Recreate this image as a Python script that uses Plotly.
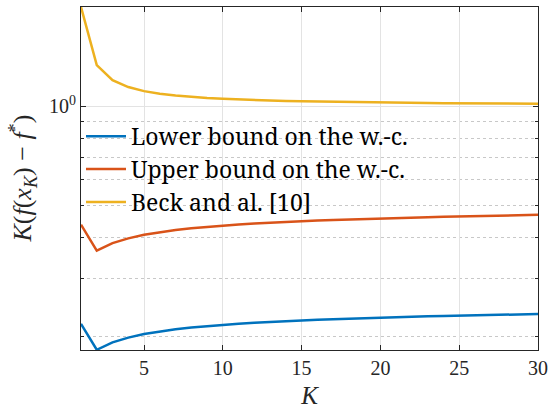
import plotly.graph_objects as go

K = list(range(1, 31))

lower_bound = [0.2185, 0.1823, 0.1920, 0.1985, 0.2035, 0.2075, 0.2105, 0.2130,
               0.2152, 0.2170, 0.2187, 0.2202, 0.2216, 0.2228, 0.2239, 0.2249,
               0.2258, 0.2267, 0.2275, 0.2283, 0.2290, 0.2297, 0.2303, 0.2309,
               0.2315, 0.2320, 0.2325, 0.2330, 0.2335, 0.2340]

upper_bound = [0.4370, 0.3646, 0.3840, 0.3970, 0.4070, 0.4150, 0.4210, 0.4260,
               0.4304, 0.4340, 0.4374, 0.4404, 0.4432, 0.4456, 0.4478, 0.4498,
               0.4516, 0.4534, 0.4550, 0.4566, 0.4580, 0.4594, 0.4606, 0.4618,
               0.4630, 0.4640, 0.4650, 0.4660, 0.4670, 0.4680]

beck = [2.0, 1.3333, 1.2, 1.1429, 1.1111, 1.0909, 1.0769, 1.0667, 1.0588, 1.0526,
        1.0476, 1.0435, 1.04, 1.0370, 1.0345, 1.0323, 1.0303, 1.0286, 1.0270, 1.0256,
        1.0244, 1.0233, 1.0222, 1.0213, 1.0204, 1.0196, 1.0189, 1.0182, 1.0175, 1.0169]

names = ["Lower bound on the w.-c.", "Upper bound on the w.-c.", "Beck and al. [10]"]
colors = ["#0072BD", "#D95319", "#EDB120"]

x_ticks = [5, 10, 15, 20, 25, 30]
y_major = [1]
y_major_text = ["10<sup>0</sup>"]
y_minor = [0.2, 0.3, 0.4, 0.5, 0.6, 0.7, 0.8, 0.9, 2]

x_title = "<i>K</i>"
y_title = "<i>K</i>(<i>f</i>(<i>x</i><sub><i>K</i></sub>) − <i>f</i><sup>*</sup>)"

FONT = "Liberation Serif"
LEGEND_FONT = "Noto Serif"
AX = "#262626"

fig = go.Figure()
for vals, name, col in zip([lower_bound, upper_bound, beck], names, colors):
    fig.add_trace(go.Scatter(x=K, y=vals, mode="lines", name=name,
                             line=dict(color=col, width=2.5)))

fig.add_annotation(text=y_title, textangle=-90, xref="paper", yref="paper",
                   x=-0.129, y=0.50, xanchor="center", yanchor="middle", showarrow=False,
                   font=dict(family=FONT, size=26, color=AX))

fig.update_layout(
    width=550, height=411,
    margin=dict(l=81, r=12, t=7, b=61, autoexpand=False),
    paper_bgcolor="white", plot_bgcolor="white",
    font=dict(family=FONT, size=20, color=AX),
    showlegend=True,
    legend=dict(x=0.0, y=0.686, xanchor="left", yanchor="top",
                bgcolor="rgba(0,0,0,0)", borderwidth=0, itemwidth=40,
                font=dict(family=LEGEND_FONT, size=23, color="#000000"),
                tracegroupgap=0),
    xaxis=dict(range=[1, 30], tickmode="array", tickvals=x_ticks,
               ticks="inside", ticklen=5, tickcolor=AX, tickwidth=1,
               showline=True, linecolor=AX, linewidth=1, mirror="ticks",
               showgrid=True, gridcolor="#e3e3e3", gridwidth=1, zeroline=False,
               automargin=False,
               tickfont=dict(family=FONT, size=20, color=AX),
               title=dict(text=x_title, font=dict(family=FONT, size=25, color=AX), standoff=8)),
    yaxis=dict(type="log", range=[-0.7399, 0.30103], tickmode="array",
               tickvals=y_major, ticktext=y_major_text,
               ticks="inside", ticklen=5, tickcolor=AX, tickwidth=1,
               showline=True, linecolor=AX, linewidth=1, mirror="ticks",
               showgrid=True, gridcolor="#e3e3e3", gridwidth=1, zeroline=False,
               automargin=False,
               tickfont=dict(family=FONT, size=20, color=AX),
               minor=dict(tickmode="array", tickvals=y_minor, ticks="inside", ticklen=3,
                          tickcolor=AX, showgrid=True, gridcolor="#c8c8c8",
                          griddash="dot", gridwidth=1)),
)

fig.write_html("out.html", config={"displayModeBar": False},
               post_script="document.body.style.margin='0';")
